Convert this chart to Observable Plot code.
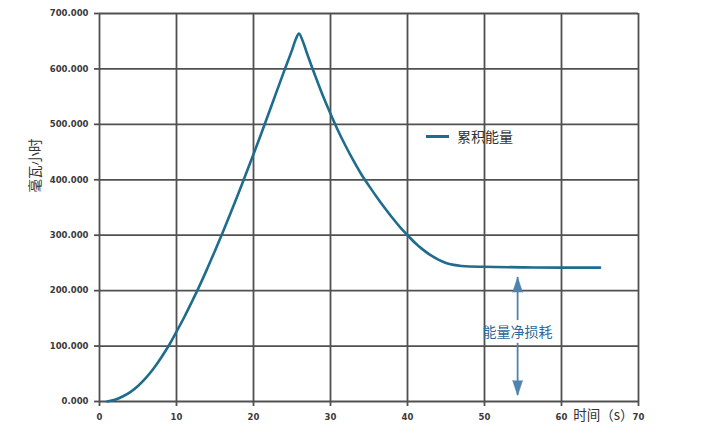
<!DOCTYPE html>
<html>
<head>
<meta charset="utf-8">
<script src="https://cdn.jsdelivr.net/npm/d3@7"></script>
<script src="https://cdn.jsdelivr.net/npm/@observablehq/plot@0.6"></script>
<style>
  html, body { margin: 0; padding: 0; background: #fff; }
  #wrap { position: relative; width: 720px; height: 434px; }
  #legend { position: absolute; left: 426px; top: 126px; display: flex; align-items: center;
    font-family: "Noto Sans CJK SC", sans-serif; font-size: 14px; color: #333; }
  #legend .swatch { width: 23px; height: 3px; background: #1f6a8e; margin-right: 8px; }
</style>
</head>
<body>
<div id="wrap"><div id="legend"><span class="swatch"></span><span>累积能量</span></div></div>
<script>
// Time (s)
const times = [1, 2, 3, 4, 5, 6, 7, 8, 9, 10, 11, 12, 13, 14, 15, 16, 17, 18, 19, 20,
  21, 22, 23, 24, 25, 25.5, 25.9, 26.4, 27, 28, 29, 30, 31, 32, 33, 34, 35, 36, 37, 38, 39, 40,
  41, 42, 43, 44, 45, 46, 47, 48, 50, 55, 60, 65];
// Cumulative energy (mWh)
const energy = [0, 3, 9, 17, 28, 42, 59, 79, 101, 126, 152, 180, 209, 240, 272, 305, 339, 374, 410, 446,
  483, 521, 559, 597, 634, 654, 664, 650, 626, 588, 552, 519, 488, 460, 434, 410, 389, 369, 350, 332, 315, 300,
  286, 274, 264, 256, 250, 246.5, 244.5, 243.5, 243, 242, 241.5, 241.5];
const xTicks = [0, 10, 20, 30, 40, 50, 60, 70];
const yTicks = [0, 100, 200, 300, 400, 500, 600, 700];
const seriesName = "累积能量";
const xLabel = "时间（s）";
const yLabel = "毫瓦小时";
// Annotation: net energy loss
const lossText = "能量净损耗";
const lossAt = [54.3];
const lossUpper = [146, 224];
const lossLower = [105, 11];
const lossLabelY = 125;

const data = times.map((t, i) => ({t, e: energy[i]}));
const gridStyle = {stroke: "#505050", strokeOpacity: 1, strokeWidth: 1.8};
const arrowColor = "#4f83ad";

const chart = Plot.plot({
  width: 720,
  height: 434,
  marginLeft: 99,
  marginRight: 82,
  marginTop: 13,
  marginBottom: 33,
  style: {fontFamily: "'DejaVu Sans', sans-serif", background: "transparent"},
  x: {domain: [0, 70]},
  y: {domain: [0, 700]},
  marks: [
    Plot.gridX(xTicks, gridStyle),
    Plot.gridY(yTicks, gridStyle),
    Plot.axisX(xTicks, {tickSize: 5, tickPadding: 7, label: null, fontSize: 8.5, fontWeight: "bold",
      stroke: "#505050", strokeWidth: 1.8, fill: "#3a3a3a"}),
    Plot.axisY(yTicks, {tickSize: 5, tickPadding: 6, label: null, fontSize: 8.5, fontWeight: "bold",
      tickFormat: d3.format(".3f"), stroke: "#505050", strokeWidth: 1.8, fill: "#3a3a3a"}),
    Plot.text([xLabel], {frameAnchor: "bottom-right", text: d => d, dx: -5, dy: 18,
      textAnchor: "end", fontSize: 13.5, fill: "#333", fontFamily: "'Noto Sans CJK SC', sans-serif"}),
    Plot.text([yLabel], {frameAnchor: "left", text: d => d, rotate: -90, dx: -64, dy: -15,
      fontSize: 13.5, fill: "#333", fontFamily: "'Noto Sans CJK SC', sans-serif"}),
    Plot.line(data, {x: "t", y: "e", curve: "monotone-x", stroke: "#1f6c8f", strokeWidth: 2.6}),
    Plot.ruleX(lossAt, {x: d => d, y1: lossUpper[0], y2: lossUpper[1], stroke: arrowColor, strokeWidth: 1.8}),
    Plot.ruleX(lossAt, {x: d => d, y1: lossLower[0], y2: lossLower[1], stroke: arrowColor, strokeWidth: 1.8}),
    Plot.vector(lossAt, {x: d => d, y: lossUpper[1], shape: "spike", anchor: "end", length: 15, r: 5,
      rotate: 0, fill: arrowColor, stroke: arrowColor, strokeWidth: 0.5}),
    Plot.vector(lossAt, {x: d => d, y: lossLower[1], shape: "spike", anchor: "end", length: 15, r: 5,
      rotate: 180, fill: arrowColor, stroke: arrowColor, strokeWidth: 0.5}),
    Plot.text(lossAt, {x: d => d, y: lossLabelY, text: () => lossText, fontSize: 14, fill: "#2d6a9a",
      fontFamily: "'Noto Sans CJK SC', sans-serif"})
  ]
});
document.getElementById("wrap").prepend(chart);
</script>
</body>
</html>
